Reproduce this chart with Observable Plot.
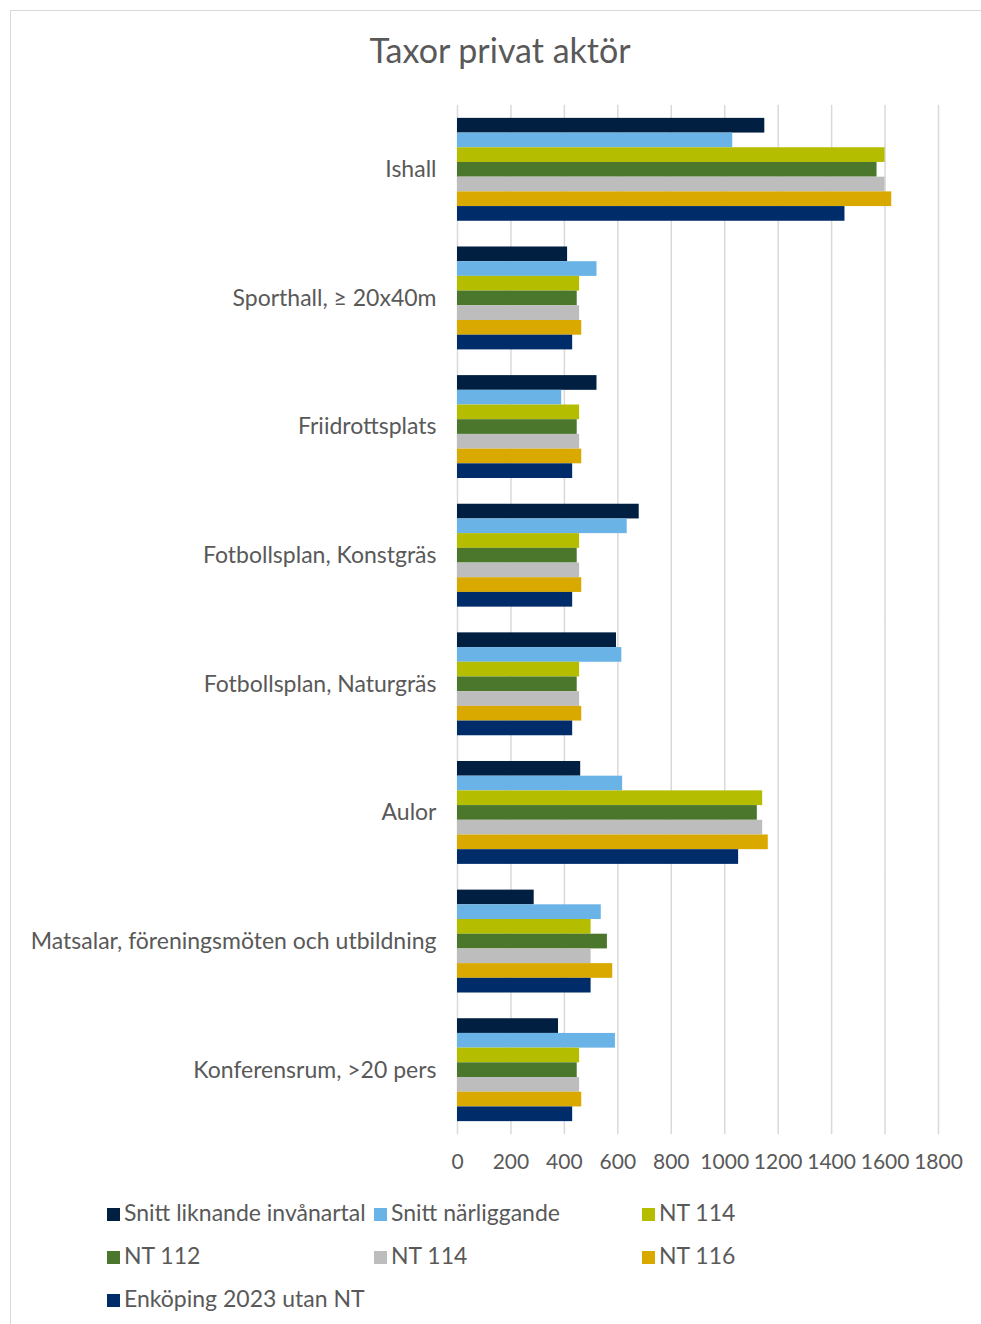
<!DOCTYPE html>
<html><head><meta charset="utf-8">
<script src="https://cdn.jsdelivr.net/npm/d3@7"></script>
<script src="https://cdn.jsdelivr.net/npm/@observablehq/plot@0.6"></script>
<style>
html,body{margin:0;padding:0;background:#fff;}
body{width:981px;height:1324px;overflow:hidden;position:relative;font-family:Lato,"Open Sans",sans-serif;color:#595959;}
#frame{position:absolute;left:10px;top:10px;width:1000px;height:1400px;border:1px solid #d9d9d9;box-sizing:border-box;}
#title{position:absolute;left:0;width:1000px;text-align:center;top:28px;font-size:34px;line-height:44px;color:#595959;}
#chart{position:absolute;left:0;top:90px;}
#legend{position:absolute;left:0;top:0;}
.item{position:absolute;font-size:23px;line-height:26px;white-space:nowrap;color:#595959;}
.sw{display:inline-block;width:13px;height:13px;margin-right:4px;vertical-align:0px;}
</style></head>
<body>
<div id="frame"></div>
<div id="title">Taxor privat aktör</div>
<div id="chart"></div>
<div id="legend"></div>
<script>
const categories = ["Ishall","Sporthall, ≥ 20x40m","Friidrottsplats","Fotbollsplan, Konstgräs","Fotbollsplan, Naturgräs","Aulor","Matsalar, föreningsmöten och utbildning","Konferensrum, >20 pers"];
const seriesKeys = ["s1","s2","s3","s4","s5","s6","s7"];
const seriesNames = ["Snitt liknande invånartal","Snitt närliggande","NT 114","NT 112","NT 114","NT 116","Enköping 2023 utan NT"];
const seriesColors = ["#001f41","#69b3e7","#b5bd00","#4a772b","#bcbdbc","#daa900","#002d6a"];
const xTicks = [0,200,400,600,800,1000,1200,1400,1600,1800];

const snittLiknande = [1150,412,522,680,595,461,287,378];
const snittNarliggande = [1030,522,390,635,615,618,538,591];
const nt114a = [1600,457,457,457,457,1142,500,457];
const nt112 = [1570,448,448,448,448,1122,561,448];
const nt114b = [1600,457,457,457,457,1142,500,457];
const nt116 = [1625,465,465,465,465,1163,581,465];
const enkoping = [1450,431,431,431,431,1052,500,431];

const seriesValues = [snittLiknande,snittNarliggande,nt114a,nt112,nt114b,nt116,enkoping];
const data = [];
categories.forEach((c,i)=>seriesValues.forEach((vals,j)=>data.push({category:c,series:seriesKeys[j],value:vals[i]})));

const chart = Plot.plot({
  width: 981, height: 1088,
  marginLeft: 457, marginRight: 43, marginTop: 15, marginBottom: 44,
  style: {fontFamily: "Lato, 'Open Sans', sans-serif", fontSize: "23px", color: "#595959", background: "transparent"},
  x: {domain: [0,1800], ticks: xTicks, tickSize: 0, tickPadding: 32, label: null, tickFormat: d => String(d)},
  y: {domain: seriesKeys, padding: 0, round: false, axis: null},
  fy: {domain: categories, paddingInner: 0.2, paddingOuter: 0.1, round: false, axis: "left", label: null, tickSize: 0, tickPadding: 21},
  color: {domain: seriesKeys, range: seriesColors},
  facet: {data: data, y: "category", label: null},
  marks: [
    Plot.ruleX(xTicks, {x: d => d, stroke: "#d9d9d9", strokeWidth: 1.5, insetTop: -13, insetBottom: -13}),
    Plot.barX(data, {x: "value", y: "series", fill: "series"})
  ]
});
d3.select(chart).selectAll("g[aria-label='x-axis tick label']").style("font-size", "21px");
document.getElementById("chart").appendChild(chart);

const legendPos = [[107,1212],[374,1212],[642,1212],[107,1255],[374,1255],[642,1255],[107,1298]];
const legend = document.getElementById("legend");
seriesNames.forEach((n,i)=>{
  const d = document.createElement("div");
  d.className = "item";
  d.style.left = legendPos[i][0] + "px";
  d.style.top = (legendPos[i][1] - 13) + "px";
  d.innerHTML = `<span class="sw" style="background:${seriesColors[i]}"></span>`;
  d.appendChild(document.createTextNode(n));
  legend.appendChild(d);
});
</script>
</body></html>
